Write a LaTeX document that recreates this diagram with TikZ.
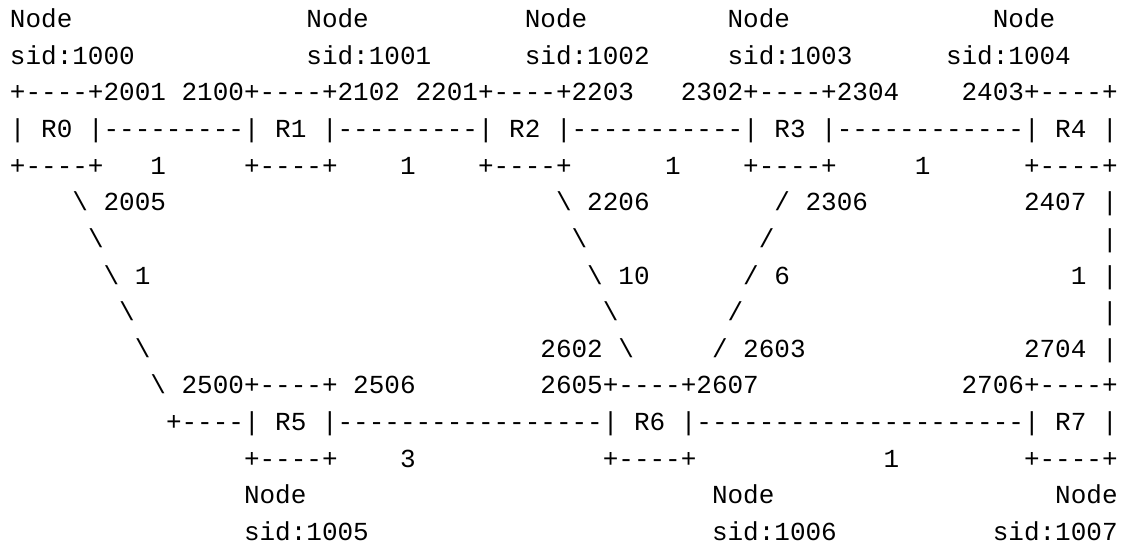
\documentclass[tikz,border=0pt]{standalone}
\usepackage{fontspec}
\setmonofont{Liberation Mono}
\newcommand{\tk}[4]{\node[tok] (#1) at ({10+15.6*#2},{27.5+36.65*(#3-1)}) {#4};}
\newcommand{\bs}{\textbackslash}
\tikzset{tok/.style={anchor=base west, inner sep=0pt, outer sep=0pt, text=black,
  font=\ttfamily\fontsize{19.5pt}{19.5pt}\selectfont}}
\begin{document}
\begin{tikzpicture}[x=0.75pt,y=-0.75pt]
\fill[white] (0,0) rectangle (1136,548);
\useasboundingbox (0,0) rectangle (1136,548);
% line 1
\tk{a1}{0}{1}{Node}
\tk{a2}{19}{1}{Node}
\tk{a3}{33}{1}{Node}
\tk{a4}{46}{1}{Node}
\tk{a5}{63}{1}{Node}
% line 2
\tk{b1}{0}{2}{sid:1000}
\tk{b2}{19}{2}{sid:1001}
\tk{b3}{33}{2}{sid:1002}
\tk{b4}{46}{2}{sid:1003}
\tk{b5}{60}{2}{sid:1004}
% line 3
\tk{c1}{0}{3}{+----+2001}
\tk{c2}{11}{3}{2100+----+2102}
\tk{c3}{26}{3}{2201+----+2203}
\tk{c4}{43}{3}{2302+----+2304}
\tk{c5}{61}{3}{2403+----+}
% line 4
\tk{d1}{0}{4}{|}
\tk{r0}{2}{4}{R0}
\tk{d2}{5}{4}{|---------|}
\tk{r1}{17}{4}{R1}
\tk{d3}{20}{4}{|---------|}
\tk{r2}{32}{4}{R2}
\tk{d4}{35}{4}{|-----------|}
\tk{r3}{49}{4}{R3}
\tk{d5}{52}{4}{|------------|}
\tk{r4}{67}{4}{R4}
\tk{d6}{70}{4}{|}
% line 5
\tk{e1}{0}{5}{+----+}
\tk{e2}{9}{5}{1}
\tk{e3}{15}{5}{+----+}
\tk{e4}{25}{5}{1}
\tk{e5}{30}{5}{+----+}
\tk{e6}{42}{5}{1}
\tk{e7}{47}{5}{+----+}
\tk{e8}{58}{5}{1}
\tk{e9}{65}{5}{+----+}
% line 6
\tk{f1}{4}{6}{\bs}
\tk{f2}{6}{6}{2005}
\tk{f3}{35}{6}{\bs}
\tk{f4}{37}{6}{2206}
\tk{f5}{49}{6}{/}
\tk{f6}{51}{6}{2306}
\tk{f7}{65}{6}{2407}
\tk{f8}{70}{6}{|}
% line 7
\tk{g1}{5}{7}{\bs}
\tk{g2}{36}{7}{\bs}
\tk{g3}{48}{7}{/}
\tk{g4}{70}{7}{|}
% line 8
\tk{h1}{6}{8}{\bs}
\tk{h2}{8}{8}{1}
\tk{h3}{37}{8}{\bs}
\tk{h4}{39}{8}{10}
\tk{h5}{47}{8}{/}
\tk{h6}{49}{8}{6}
\tk{h7}{68}{8}{1}
\tk{h8}{70}{8}{|}
% line 9
\tk{i1}{7}{9}{\bs}
\tk{i2}{38}{9}{\bs}
\tk{i3}{46}{9}{/}
\tk{i4}{70}{9}{|}
% line 10
\tk{j1}{8}{10}{\bs}
\tk{j2}{34}{10}{2602}
\tk{j3}{39}{10}{\bs}
\tk{j4}{45}{10}{/}
\tk{j5}{47}{10}{2603}
\tk{j6}{65}{10}{2704}
\tk{j7}{70}{10}{|}
% line 11
\tk{k1}{9}{11}{\bs}
\tk{k2}{11}{11}{2500+----+}
\tk{k3}{22}{11}{2506}
\tk{k4}{34}{11}{2605+----+2607}
\tk{k5}{61}{11}{2706+----+}
% line 12
\tk{m1}{10}{12}{+----|}
\tk{r5}{17}{12}{R5}
\tk{m2}{20}{12}{|-----------------|}
\tk{r6}{40}{12}{R6}
\tk{m3}{43}{12}{|---------------------|}
\tk{r7}{67}{12}{R7}
\tk{m4}{70}{12}{|}
% line 13
\tk{n1}{15}{13}{+----+}
\tk{n2}{25}{13}{3}
\tk{n3}{38}{13}{+----+}
\tk{n4}{56}{13}{1}
\tk{n5}{65}{13}{+----+}
% line 14
\tk{o1}{15}{14}{Node}
\tk{o2}{45}{14}{Node}
\tk{o3}{67}{14}{Node}
% line 15
\tk{p1}{15}{15}{sid:1005}
\tk{p2}{45}{15}{sid:1006}
\tk{p3}{63}{15}{sid:1007}
\end{tikzpicture}
\end{document}
